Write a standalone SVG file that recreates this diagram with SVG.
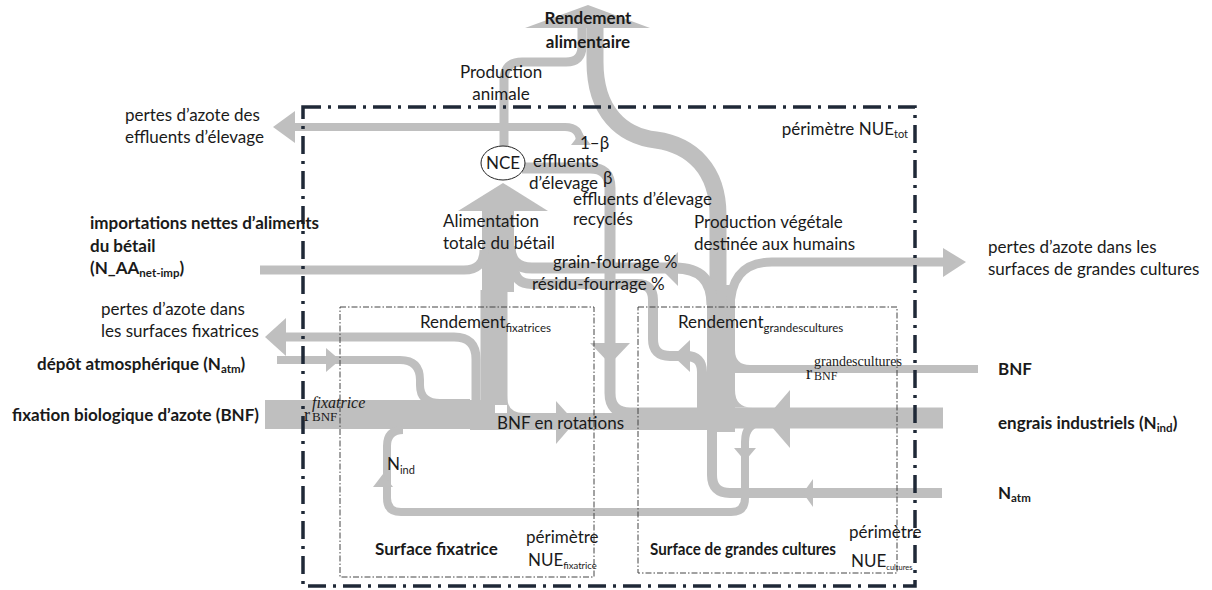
<svg xmlns="http://www.w3.org/2000/svg" width="1212" height="590" viewBox="0 0 1212 590">
<defs>
<style>
.fl{fill:none;stroke:#bfbfbf}
.hd{fill:#bfbfbf}
.t{font-family:Lato,'Open Sans',sans-serif;fill:#1a1a1a;font-size:17px}
.b{font-weight:bold}
.s{font-family:'Liberation Serif',serif;fill:#1a1a1a}
.ob{fill:none;stroke:#1f2937;stroke-width:3.5;stroke-dasharray:18 7 3 7}
.ib{fill:none;stroke:#444;stroke-width:1;stroke-dasharray:6 2 1.5 2}
</style>
</defs>
<rect width="1212" height="590" fill="#fff"/>

<g id="connectors">
  <!-- production animale -->
  <path class="fl" stroke-width="9" d="M504 146 V80 Q504 62 522 62 H566 Q582 62 582 46 V26"/>
  <!-- production vegetale -->
  <path class="fl" stroke-width="17" d="M595 26 V62 C595 112 622 136 656 140 C692 145 718 170 718 215 V300"/>
  <polygon class="hd" points="525,28 588,5 650,28"/>
  <!-- crop column -->
  <path class="fl" stroke-width="28" d="M721 432 V285"/>
  <!-- pertes grandes cultures -->
  <path class="fl" stroke-width="9" d="M730 310 C730 280 742 262 772 262 H945"/>
  <polygon class="hd" points="943,248 966,262 943,277"/>
  <!-- grain-fourrage -->
  <path class="fl" stroke-width="11" d="M712 305 C712 280 700 268 675 268 H532 Q510 268 510 246"/>
  <polygon class="hd" points="678,252 661,269 678,286"/>
  <!-- residu-fourrage -->
  <path class="fl" stroke-width="10" d="M702 412 V372 Q702 356 686 356 H670 Q653 356 653 339 V300 Q653 284 637 284 H532 Q514 284 514 266"/>
  <polygon class="hd" points="690,340 673,356 690,372"/>
  <!-- effluents recycles -->
  <path class="fl" stroke-width="11" d="M522 168 H590 Q610 168 610 188 V393 Q610 413 630 413 H710"/>
  <polygon class="hd" points="590,343 630,343 610,364"/>
  <!-- 1-beta pertes effluents -->
  <path class="fl" stroke-width="8" d="M293 127 H565 Q580 127 580 142"/>
  <polygon class="hd" points="295,111 273,127 295,143"/>
  <polygon class="hd" points="571,145 581,132 591,145"/>
  <!-- alimentation column -->
  <path class="fl" stroke-width="32" d="M498 211 V292"/>
  <path class="fl" stroke-width="27" d="M494 290 V405"/>
  <polygon class="hd" points="458,211 503,183 548,211"/>
  <!-- imports -->
  <path class="fl" stroke-width="9" d="M260 270 H464 Q484 270 484 250"/>
  <!-- pertes fixatrices -->
  <path class="fl" stroke-width="9" d="M285 337 H454 Q476 337 476 359 V402"/>
  <polygon class="hd" points="286,318 265,337 286,356"/>
  <!-- depot atmospherique -->
  <path class="fl" stroke-width="8" d="M277 360 H400 Q420 360 420 380 V385 Q420 403 440 403 H470"/>
  <polygon class="hd" points="326,348 340,360 326,372"/>
  <!-- BNF fixatrice -->
  <rect class="hd" x="265" y="400" width="230" height="29"/>
  <path class="hd" d="M507 396 Q507 413 524 413 L507 413 Z"/>
  <!-- BNF en rotations -->
  <path class="fl" stroke-width="17" d="M470 421.5 H721"/>
  <polygon class="hd" points="556,401 575,422 556,444"/>
  <!-- Nind loop -->
  <path class="fl" stroke-width="8" d="M765 422 Q745 422 745 442 V498 Q745 512 731 512 H401 Q387 512 387 498 V446 Q387 430 403 430"/>
  <polygon class="hd" points="734,448 756,448 745,461"/>
  <polygon class="hd" points="373,487 393,487 383,474"/>
  <!-- engrais industriels -->
  <rect class="hd" x="730" y="407.5" width="213" height="21"/>
  <path class="hd" d="M735 390 Q735 407.5 752 407.5 L735 407.5 Z"/>
  <polygon class="hd" points="790,390 765,419 790,448"/>
  <!-- BNF grandes cultures -->
  <rect class="hd" x="730" y="365" width="248" height="8"/>
  <path class="hd" d="M735 350 Q735 365 750 365 L735 365 Z"/>
  <!-- Natm grandes cultures -->
  <path class="fl" stroke-width="10" d="M942 493 H730 Q712 493 712 475 V430"/>
  <polygon class="hd" points="813,479 803,493 813,507"/>
</g>

<g id="boundaries">
  <rect class="ob" x="303" y="107" width="612" height="479"/>
  <rect class="ib" x="340" y="307" width="254" height="270"/>
  <rect class="ib" x="638" y="307" width="259" height="266"/>
</g>

<g id="node-nce">
  <ellipse cx="503" cy="163" rx="22" ry="17" fill="#fff" stroke="#222" stroke-width="1"/>
  <text class="t" x="503" y="169" text-anchor="middle" font-size="16">NCE</text>
</g>

<g id="node-rendement-alimentaire">
  <text class="t b" x="588" y="24" text-anchor="middle" font-size="17">Rendement</text>
  <text class="t b" x="588" y="48" text-anchor="middle" font-size="17">alimentaire</text>
</g>

<g id="labels-flows">
  <text class="t" x="501" y="78" text-anchor="middle" font-size="16">Production</text>
  <text class="t" x="501" y="100" text-anchor="middle" font-size="16">animale</text>
  <text class="t" x="125" y="121" font-size="16">pertes d’azote des</text>
  <text class="t" x="125" y="143" font-size="16">effluents d’élevage</text>
  <text class="t" x="908" y="135" text-anchor="end" font-size="15">périmètre NUE<tspan font-size="11" dy="3">tot</tspan></text>
  <text class="t" x="580" y="149" font-size="14">1–β</text>
  <text class="t" x="533" y="167" font-size="11.5">effluents</text>
  <text class="t" x="529" y="189" font-size="11.5">d’élevage</text>
  <text class="t" x="603" y="184" font-size="14">β</text>
  <text class="t" x="573" y="205" font-size="13.5">effluents d’élevage</text>
  <text class="t" x="573" y="225" font-size="13.5">recyclés</text>
  <text class="t" x="443" y="227">Alimentation</text>
  <text class="t" x="443" y="249">totale du bétail</text>
  <text class="t" x="694" y="228">Production végétale</text>
  <text class="t" x="694" y="250">destinée aux humains</text>
  <text class="t" x="553" y="268" font-size="16.5">grain-fourrage %</text>
  <text class="t" x="532" y="290" font-size="16.5">résidu-fourrage %</text>
  <text class="t" x="497" y="429">BNF en rotations</text>
  <text class="t" x="387" y="470">N<tspan font-size="11" dy="4">ind</tspan></text>
</g>

<g id="node-importations">
  <text class="t b" x="90" y="229" font-size="16.5">importations nettes d’aliments</text>
  <text class="t b" x="90" y="252" font-size="16">du bétail</text>
  <text class="t b" x="90" y="274" font-size="16"> (N_AA<tspan font-size="11.5" dy="3">net-imp</tspan><tspan dy="-3">)</tspan></text>
</g>

<g id="node-pertes-cultures">
  <text class="t" x="988" y="253" font-size="16.5">pertes d’azote dans les</text>
  <text class="t" x="988" y="275" font-size="16.5">surfaces de grandes cultures</text>
</g>

<g id="node-pertes-fixatrices">
  <text class="t" x="101" y="315" font-size="16.5">pertes d’azote dans</text>
  <text class="t" x="101" y="337" font-size="16.5">les surfaces fixatrices</text>
</g>

<g id="node-depot">
  <text class="t b" x="37" y="370" font-size="16">dépôt atmosphérique (N<tspan font-size="11.5" dy="3">atm</tspan><tspan dy="-3">)</tspan></text>
</g>

<g id="node-bnf-fix">
  <text class="t b" x="12" y="421" font-size="16">fixation biologique d’azote (BNF)</text>
  <text class="s" x="304" y="421" font-size="18">r</text>
  <text class="s" x="312" y="408" font-size="16" font-style="italic">fixatrice</text>
  <text class="s" x="312" y="421" font-size="13">BNF</text>
</g>

<g id="node-bnf-gc">
  <text class="t b" x="998" y="375" font-size="16">BNF</text>
  <text class="s" x="806" y="379" font-size="18">r</text>
  <text class="s" x="814" y="366" font-size="14">grandescultures</text>
  <text class="s" x="814" y="380" font-size="12">BNF</text>
</g>

<g id="node-engrais">
  <text class="t b" x="998" y="429" font-size="16.5">engrais industriels (N<tspan font-size="11.5" dy="3">ind</tspan><tspan dy="-3">)</tspan></text>
</g>

<g id="node-natm">
  <text class="t b" x="998" y="499" font-size="16">N<tspan font-size="11.5" dy="3">atm</tspan></text>
</g>

<g id="node-surface-fixatrice">
  <text class="t" x="420" y="328">Rendement<tspan font-size="11.5" dy="4">fixatrices</tspan></text>
  <text class="t b" x="375" y="555" font-size="15">Surface fixatrice</text>
  <text class="t" x="526" y="543" font-size="13.5">périmètre</text>
  <text class="t" x="528" y="566" font-size="13">NUE<tspan font-size="9.5" dy="3">fixatrice</tspan></text>
</g>

<g id="node-surface-cultures">
  <text class="t" x="678" y="328">Rendement<tspan font-size="11.5" dy="4">grandescultures</tspan></text>
  <text class="t b" x="650" y="555" font-size="14" textLength="186" lengthAdjust="spacingAndGlyphs">Surface de grandes cultures</text>
  <text class="t" x="849" y="538" font-size="12">périmètre</text>
  <text class="t" x="851" y="567" font-size="11">NUE<tspan font-size="7.5" dy="3">cultures</tspan></text>
</g>
</svg>
